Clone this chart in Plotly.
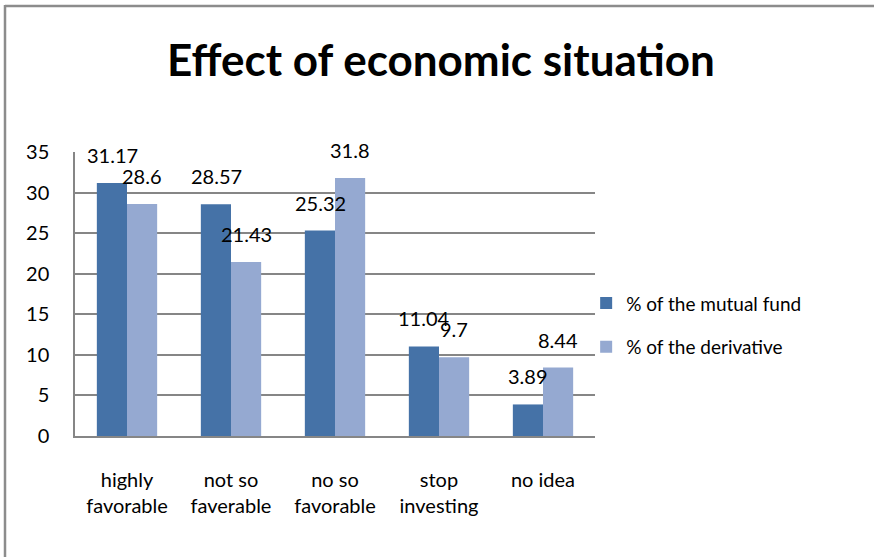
import plotly.graph_objects as go

categories = ["highly<br>favorable", "not so<br>faverable", "no so<br>favorable", "stop<br>investing", "no idea"]
mutual_fund = [31.17, 28.57, 25.32, 11.04, 3.89]
derivative = [28.6, 21.43, 31.8, 9.7, 8.44]
mutual_labels = ["31.17", "28.57", "25.32", "11.04", "3.89"]
derivative_labels = ["28.6", "21.43", "31.8", "9.7", "8.44"]
series_names = ["% of the mutual fund", "% of the derivative"]
y_ticks = [0, 5, 10, 15, 20, 25, 30, 35]

FONT = "Lato"
DARK = "#4572A7"
LIGHT = "#95A9D1"

fig = go.Figure()
fig.add_trace(go.Bar(x=categories, y=mutual_fund, name=series_names[0],
                     marker=dict(color=DARK, line=dict(width=0)), legendgroup="a"))
fig.add_trace(go.Bar(x=categories, y=derivative, name=series_names[1],
                     marker=dict(color=LIGHT, line=dict(width=0)), legendgroup="b"))

annotations = []
for c, v, t in zip(categories, mutual_fund, mutual_labels):
    annotations.append(dict(x=c, y=v, text=t, xref="x", yref="y", showarrow=False,
                            xshift=-15, yshift=14, yanchor="bottom",
                            font=dict(family=FONT, size=20, color="#000")))
for c, v, t in zip(categories, derivative, derivative_labels):
    annotations.append(dict(x=c, y=v, text=t, xref="x", yref="y", showarrow=False,
                            xshift=15, yshift=14, yanchor="bottom",
                            font=dict(family=FONT, size=20, color="#000")))

fig.update_layout(
    width=874, height=557,
    margin=dict(l=75, r=279, t=152, b=121),
    paper_bgcolor="white", plot_bgcolor="white",
    barmode="group", bargap=0.42, bargroupgap=0,
    title=dict(text="<b>Effect of economic situation</b>", x=441/874, xref="container",
               xanchor="center", y=0.892, yanchor="middle",
               font=dict(family=FONT, size=44, color="#000")),
    font=dict(family=FONT, size=20, color="#000"),
    legend=dict(x=0.983, xref="paper", xanchor="left", y=0.39, yanchor="middle",
                font=dict(family=FONT, size=19, color="#000"),
                tracegroupgap=16, itemwidth=30, bgcolor="rgba(0,0,0,0)"),
    annotations=annotations,
    shapes=[
        dict(type="line", xref="paper", yref="paper", x0=-70/520, x1=2, y0=1 + 146/284, y1=1 + 146/284,
             line=dict(color="#8C8C8C", width=2.5)),
        dict(type="line", xref="paper", yref="paper", x0=-70/520, x1=-70/520, y0=-2, y1=1 + 147/284,
             line=dict(color="#8C8C8C", width=2.5)),
    ],
)
fig.update_xaxes(type="category", showline=True, linecolor="#868686", linewidth=1.5,
                 showgrid=False, ticks="", tickfont=dict(family=FONT, size=20),
                 ticklabelstandoff=25)
fig.update_yaxes(range=[0, 35], tickvals=y_ticks, showline=True, linecolor="#868686",
                 linewidth=1.5, showgrid=True, gridcolor="#868686", gridwidth=1.5,
                 zeroline=False, ticks="", tickfont=dict(family=FONT, size=20),
                 ticklabelstandoff=20)

fig.write_html("out.html", config={"displayModeBar": False},
               post_script="document.body.style.margin='0';")
